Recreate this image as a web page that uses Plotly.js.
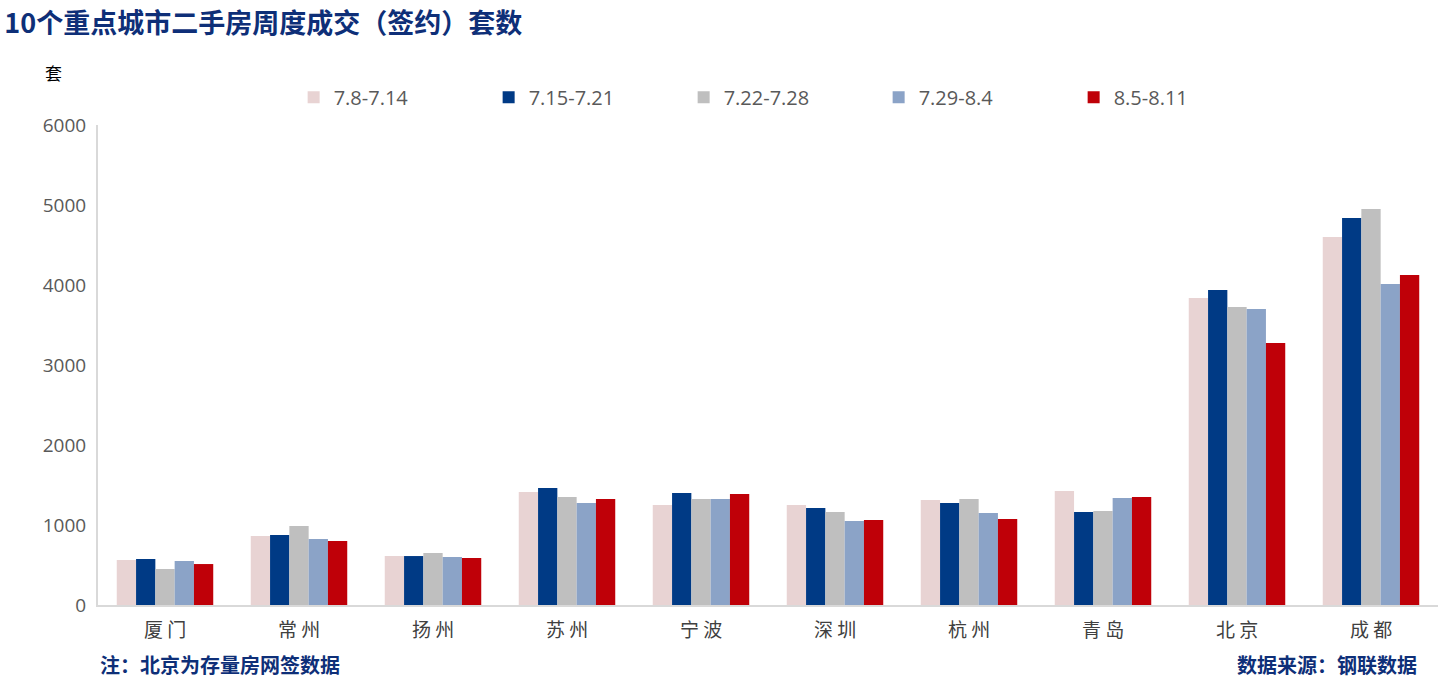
<!DOCTYPE html>
<html><head><meta charset="utf-8">
<script src="https://cdn.plot.ly/plotly-3.0.1.min.js"></script>
<style>html,body{margin:0;padding:0;background:#fff}#c{width:1451px;height:679px}</style>
</head><body><div id="c"></div>
<script>
const cities = ["厦 门","常 州","扬 州","苏 州","宁 波","深 圳","杭 州","青 岛","北 京","成 都"];
const seriesNames = ["7.8-7.14","7.15-7.21","7.22-7.28","7.29-8.4","8.5-8.11"];
const w1 = [562, 862, 612, 1412, 1250, 1250, 1312, 1425, 3837, 4600];
const w2 = [575, 875, 612, 1462, 1400, 1212, 1275, 1162, 3937, 4837];
const w3 = [450, 987, 650, 1350, 1325, 1162, 1325, 1175, 3725, 4950];
const w4 = [550, 825, 600, 1275, 1325, 1050, 1150, 1337, 3700, 4012];
const w5 = [512, 800, 587, 1325, 1387, 1062, 1075, 1350, 3275, 4125];
const colors = ["#E8D3D3","#003A85","#BFBFBF","#8BA3C7","#BF0008"];
const values = [w1,w2,w3,w4,w5];
const traces = values.map((v,i)=>({type:"bar",name:seriesNames[i],x:cities,y:v,marker:{color:colors[i]},hoverinfo:"none"}));
const layout = {
  width:1451,height:679,
  margin:{l:98,r:13,t:125,b:74},
  paper_bgcolor:"#fff",plot_bgcolor:"#fff",
  barmode:"group",bargap:0.28,bargroupgap:0,
  font:{family:"Noto Sans CJK SC, sans-serif",color:"#595959"},
  title:{text:"<b>10个重点城市二手房周度成交（签约）套数</b>",x:0.003,xanchor:"left",y:0.966,yanchor:"middle",font:{size:27,color:"#0E2F78",family:"Noto Sans CJK SC"}},
  showlegend:true,
  legend:{orientation:"h",x:0.146,xanchor:"left",y:1.058,yanchor:"middle",font:{size:20,color:"#595959",family:"Open Sans, sans-serif"},entrywidth:150,entrywidthmode:"pixels",traceorder:"normal"},
  xaxis:{showline:true,linecolor:"#D9D9D9",linewidth:2,ticks:"",tickfont:{size:19,color:"#404040",family:"Noto Sans CJK SC"},showgrid:false,zeroline:false,ticklabelstandoff:7},
  yaxis:{range:[0,6000],dtick:1000,showline:true,linecolor:"#D9D9D9",linewidth:2,ticks:"",showgrid:false,zeroline:false,tickfont:{size:19,color:"#595959",family:"Open Sans, sans-serif"},ticklabelstandoff:6},
  annotations:[
    {text:"套",xref:"paper",yref:"paper",x:-0.033,y:1.11,xanchor:"center",yanchor:"middle",showarrow:false,font:{size:17,color:"#000",family:"Noto Sans CJK SC"}},
    {text:"<b>注：北京为存量房网签数据</b>",xref:"paper",yref:"paper",x:0.0,xanchor:"left",y:-0.124,yanchor:"middle",showarrow:false,font:{size:20,color:"#0E2F78",family:"Noto Sans CJK SC"}},
    {text:"<b>数据来源：钢联数据</b>",xref:"paper",yref:"paper",x:0.986,xanchor:"right",y:-0.124,yanchor:"middle",showarrow:false,font:{size:20,color:"#0E2F78",family:"Noto Sans CJK SC"}}
  ]
};
Plotly.newPlot("c",traces,layout,{displayModeBar:false,staticPlot:true});
</script></body></html>
